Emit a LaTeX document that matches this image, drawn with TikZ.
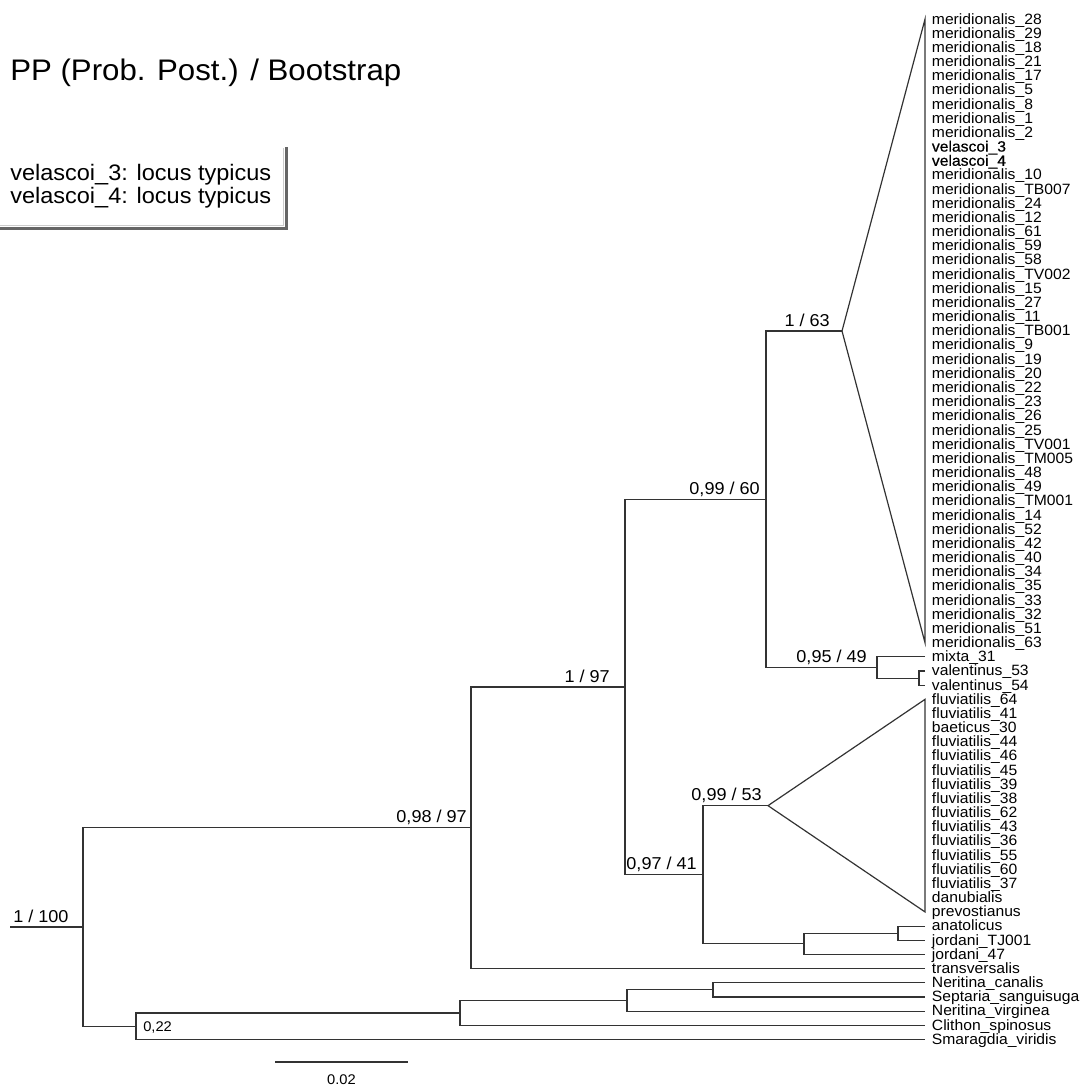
\documentclass[tikz,border=0pt]{standalone}
\usepackage{fontspec}
\setmainfont{Liberation Sans}[FakeStretch=1.05]
\newfontfamily\heavyleaf{Liberation Sans}[FakeStretch=1.05,FakeBold=0.6]
\tikzset{
  branch/.style={line width=0.9pt, black!80},
  leaf/.style={anchor=west, inner xsep=5pt, inner ysep=0pt, text height=7.3pt, text depth=0pt, font=\fontsize{11.2}{12}\selectfont},
  supp/.style={anchor=base east, inner sep=0pt, font=\fontsize{12.9}{14}\selectfont},
}
\begin{document}
\begin{tikzpicture}[x=0.75pt,y=-0.75pt]
\useasboundingbox (0,0) rectangle (1080,1086);
% title and legend
\node[anchor=base west, inner sep=0pt, font=\fontsize{22.3}{26}\selectfont] (title) at (10,80) {PP (Prob. Post.) / Bootstrap};
\node[anchor=base west, inner sep=0pt, font=\fontsize{16.8}{19}\selectfont] (leg1) at (10,180) {velascoi\_3: locus typicus};
\node[anchor=base west, inner sep=0pt, font=\fontsize{16.8}{19}\selectfont] (leg2) at (10,203) {velascoi\_4: locus typicus};
\draw[black!20, line width=0.6pt] (0,225.5) -| (283.5,148);
\draw[black!60, line width=2pt] (0,228.5) -| (286.5,147);
% leaves
\foreach \lab [count=\i from 0] in {meridionalis\_28, meridionalis\_29, meridionalis\_18, meridionalis\_21, meridionalis\_17, meridionalis\_5, meridionalis\_8, meridionalis\_1, meridionalis\_2, {\heavyleaf velascoi\_3}, {\heavyleaf velascoi\_4}, meridionalis\_10, meridionalis\_TB007, meridionalis\_24, meridionalis\_12, meridionalis\_61, meridionalis\_59, meridionalis\_58, meridionalis\_TV002, meridionalis\_15, meridionalis\_27, meridionalis\_11, meridionalis\_TB001, meridionalis\_9, meridionalis\_19, meridionalis\_20, meridionalis\_22, meridionalis\_23, meridionalis\_26, meridionalis\_25, meridionalis\_TV001, meridionalis\_TM005, meridionalis\_48, meridionalis\_49, meridionalis\_TM001, meridionalis\_14, meridionalis\_52, meridionalis\_42, meridionalis\_40, meridionalis\_34, meridionalis\_35, meridionalis\_33, meridionalis\_32, meridionalis\_51, meridionalis\_63}
  \node[leaf] (mer\i) at (925,{19.2+14.17*\i}) {\lab};
\node[leaf] (mixta) at (925,656.85) {mixta\_31};
\node[leaf] (val53) at (925,671.0) {valentinus\_53};
\node[leaf] (val54) at (925,685.2) {valentinus\_54};
\foreach \lab [count=\i from 0] in {fluviatilis\_64, fluviatilis\_41, baeticus\_30, fluviatilis\_44, fluviatilis\_46, fluviatilis\_45, fluviatilis\_39, fluviatilis\_38, fluviatilis\_62, fluviatilis\_43, fluviatilis\_36, fluviatilis\_55, fluviatilis\_60, fluviatilis\_37, danubialis, prevostianus}
  \node[leaf] (flu\i) at (925,{19.2+14.17*(48+\i)}) {\lab};
\node[leaf] (anat) at (925,926.1) {anatolicus};
\node[leaf] (jorTJ) at (925,940.25) {jordani\_TJ001};
\node[leaf] (jor47) at (925,954.4) {jordani\_47};
\node[leaf] (transv) at (925,968.6) {transversalis};
\node[leaf] (ncan) at (925,982.8) {Neritina\_canalis};
\node[leaf] (sept) at (925,996.9) {Septaria\_sanguisuga};
\node[leaf] (nvirg) at (925,1011.1) {Neritina\_virginea};
\node[leaf] (clith) at (925,1025.3) {Clithon\_spinosus};
\node[leaf] (smar) at (925,1039.4) {Smaragdia\_viridis};
% inner nodes
\coordinate (nV) at (919,678.1);
\coordinate (nD) at (877,667.5);
\coordinate (nM) at (842,331);
\coordinate (nC) at (766,499.2);
\coordinate (nH) at (898,933.2);
\coordinate (nG) at (804,943.8);
\coordinate (nF) at (768,805.65);
\coordinate (nE) at (703,874.7);
\coordinate (nB) at (625,687);
\coordinate (nA) at (471,827.8);
\coordinate (nL) at (713,989.85);
\coordinate (nK) at (627,1000.5);
\coordinate (nJ) at (460,1012.9);
\coordinate (nI) at (136,1026.15);
\coordinate (root) at (83,927);
\coordinate (stub) at (10,927);
% branches
\draw[branch] (val53.west) -| (nV) |- (val54.west);
\draw[branch] (mixta.west) -| (nD) |- (nV);
\draw[branch] (nM) -- (mer0.west) -- (mer44.west) -- cycle;
\draw[branch] (nM) -| (nC) |- (nD);
\draw[branch] (anat.west) -| (nH) |- (jorTJ.west);
\draw[branch] (nH) -| (nG) |- (jor47.west);
\draw[branch] (nF) -- (flu0.west) -- (flu15.west) -- cycle;
\draw[branch] (nF) -| (nE) |- (nG);
\draw[branch] (nC) -| (nB) |- (nE);
\draw[branch] (nB) -| (nA) |- (transv.west);
\draw[branch] (ncan.west) -| (nL) |- (sept.west);
\draw[branch] (nL) -| (nK) |- (nvirg.west);
\draw[branch] (nK) -| (nJ) |- (clith.west);
\draw[branch] (nJ) -| (nI) |- (smar.west);
\draw[branch] (nA) -| (root) |- (nI);
\draw[branch] (stub) -- (root);
% support values
\node[supp] (sA) at (467,822.8) {0,98 / 97};
\node[supp] (sB) at (610,682) {1 / 97};
\node[supp] (sC) at (760,494.2) {0,99 / 60};
\node[supp] (sM) at (830,326) {1 / 63};
\node[supp] (sD) at (867,662.5) {0,95 / 49};
\node[supp] (sE) at (697,869.7) {0,97 / 41};
\node[supp] (sF) at (762,800.6) {0,99 / 53};
\node[supp, anchor=base west] (sroot) at (13,922) {1 / 100};
\node[anchor=base west, inner sep=0pt, font=\fontsize{10.5}{12}\selectfont] (sI) at (143,1031.5) {0,22};
% scale bar
\coordinate (barL) at (275,1062);
\coordinate (barR) at (408,1062);
\draw[branch] (barL) -- (barR);
\node[anchor=base, inner sep=0pt, font=\fontsize{10.5}{12}\selectfont] (barlab) at (341.5,1084) {0.02};
\end{tikzpicture}
\end{document}
